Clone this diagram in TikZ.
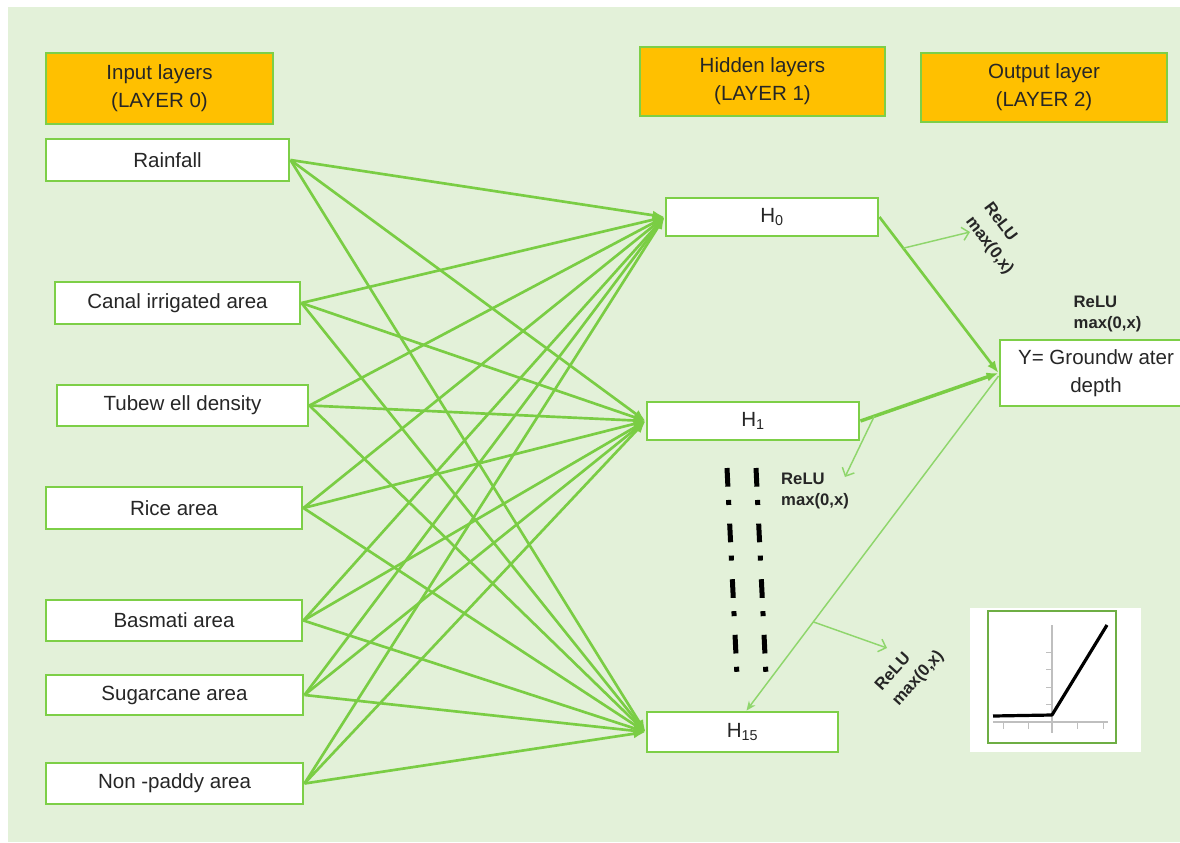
\documentclass[tikz,border=0pt]{standalone}
\usepackage{fontspec}
\setmainfont{Liberation Sans}
\usetikzlibrary{arrows.meta,calc}
\definecolor{bgc}{HTML}{E3F1D9}
\definecolor{bgreen}{HTML}{7DCF47}
\definecolor{lgreen}{HTML}{7ACD44}
\definecolor{tgreen}{HTML}{8FD66C}
\definecolor{orng}{HTML}{FFC000}
\definecolor{dgreen}{HTML}{6EAE44}
\definecolor{txt}{HTML}{262626}
\tikzset{
  headbox/.style={draw=bgreen, line width=1.9pt, fill=orng, inner sep=0pt, align=center,
    text=txt, font=\fontsize{15.4}{21}\selectfont},
  inbox/.style={draw=bgreen, line width=2.2pt, fill=white, inner sep=0pt, align=center,
    text=txt, font=\fontsize{15.4}{21}\selectfont},
  edge/.style={draw=lgreen, line width=2pt, -{Latex[length=9pt,width=7pt]}},
  thickedge/.style={draw=lgreen, line width=2.6pt, -{Latex[length=9pt,width=7pt]}},
  thinedge/.style={draw=tgreen, line width=1.1pt, -{Stealth[length=7pt,width=6pt]}},
  relu/.style={draw=tgreen, line width=1.1pt, -{Straight Barb[length=5pt,width=10pt]}},
  relulabel/.style={align=left, inner sep=0pt, text=txt,
    font=\bfseries\fontsize{12.5}{15.5}\selectfont},
  rotlabel/.style={align=left, inner sep=0pt, text=txt,
    font=\bfseries\fontsize{12.5}{17}\selectfont},
  dotline/.style={draw=black, line width=3.75pt, dash pattern=on 14pt off 10pt on 3.75pt off 14pt}
}
\begin{document}
\begin{tikzpicture}[x=0.75pt,y=-0.75pt]
\useasboundingbox (0,0) rectangle (1180,842);
\fill[white] (0,0) rectangle (1180,842);
\fill[bgc] (8,7) rectangle (1180,842);

% headers
\node[headbox, minimum width=170.25pt, minimum height=53.25pt] (hin) at (159.5,88.5) {Input layers\\(LAYER 0)};
\node[headbox, minimum width=183.75pt, minimum height=51.75pt] (hhid) at (762.5,81.5) {Hidden layers\\(LAYER 1)};
\node[headbox, minimum width=184.5pt, minimum height=51.75pt] (hout) at (1044,87.5) {Output layer\\(LAYER 2)};

% inputs
\node[inbox, minimum width=182.25pt, minimum height=31.5pt] (rain) at (167.5,160) {Rainfall};
\node[inbox, minimum width=183.75pt, minimum height=31.5pt] (canal) at (177.5,303) {Canal irrigated area};
\node[inbox, minimum width=188.25pt, minimum height=30.75pt] (tube) at (182.5,405.5) {Tubew ell density};
\node[inbox, minimum width=192pt, minimum height=31.5pt] (rice) at (174,508) {Rice area};
\node[inbox, minimum width=192pt, minimum height=30.75pt] (basm) at (174,620.5) {Basmati area};
\node[inbox, minimum width=192.75pt, minimum height=30pt] (sugar) at (174.5,695) {Sugarcane area};
\node[inbox, minimum width=192.75pt, minimum height=30.75pt] (nonp) at (174.5,783.5) {Non -paddy area};

% hidden
\node[inbox, minimum width=159pt, minimum height=28.5pt] (h0) at (772,217) {H\textsubscript{0}};
\node[inbox, minimum width=159pt, minimum height=28.5pt] (h1) at (753,421) {H\textsubscript{1}};
\node[inbox, minimum width=143.25pt, minimum height=30pt] (h15) at (742.5,732) {H\textsubscript{15}};

% output
\node[inbox, minimum width=144pt, minimum height=49.5pt] (y) at (1096,373) {Y= Groundw ater\\depth};

% input -> hidden edges
\foreach \i in {rain,canal,tube,rice,basm,sugar,nonp}
  \foreach \h in {h0,h1,h15}
    \draw[edge] (\i.east) -- (\h.west);

% hidden -> output
\draw[edge] (h0.east) -- (y.west) coordinate[pos=0.2] (r1);
\draw[thickedge] (h1.east) -- (y.west) coordinate[pos=0.1] (r2);
\draw[thinedge] ($(y.west)+(0,3)$) -- ($(h15.north)+(4,0)$) coordinate[pos=0.735] (r3);

% ReLU arrows
\coordinate (e1) at (970,232);
\coordinate (e2) at (845,477);
\coordinate (e3) at (887,648);
\draw[relu] (r1) -- (e1);
\draw[relu] (r2) -- (e2);
\draw[relu] (r3) -- (e3);

% ReLU labels
\node[rotlabel, rotate=-53] (l1) at (998,239) {ReLU\\max(0,x)};
\node[relulabel] (l2) at (1107.5,314) {ReLU\\max(0,x)};
\node[relulabel] (l3) at (815,491) {ReLU\\max(0,x)};
\node[rotlabel, rotate=48] (l4) at (910,671) {ReLU\\max(0,x)};

% dash-dot vertical lines
\draw[dotline] (727,468) -- (737,676);
\draw[dotline] (756,468) -- (766,676);

% ReLU plot
\fill[white] (970,608) rectangle (1141,752);
\draw[dgreen, line width=1.6pt] (988,611) rectangle (1116,743);
\draw[black!25, line width=0.8pt] (1052,625) -- (1052,733);
\draw[black!25, line width=0.8pt] (993,722) -- (1108,722);
\foreach \t in {652,669,687,704} \draw[black!25, line width=0.6pt] (1046,\t) -- (1052,\t);
\foreach \t in {1003,1028,1077,1103} \draw[black!25, line width=0.6pt] (\t,722) -- (\t,729);
\draw[black, line width=2.4pt, line join=round] (993,716) -- (1052,715) -- (1107,625);
\end{tikzpicture}
\end{document}
